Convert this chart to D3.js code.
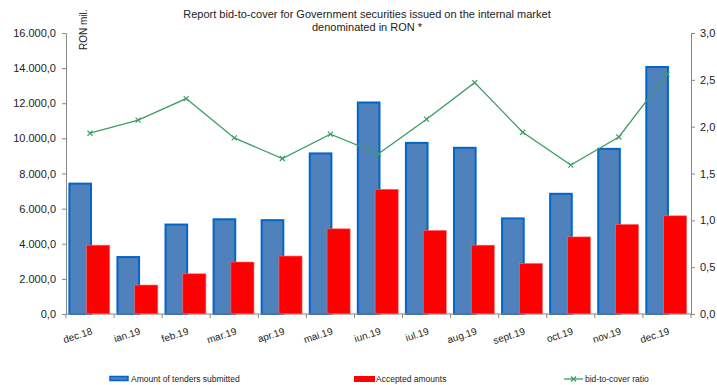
<!DOCTYPE html>
<html>
<head>
<meta charset="utf-8">
<style>
  body { margin: 0; background: #fff; }
  svg { display: block; font-family: "Liberation Sans", Arial, sans-serif; }
</style>
</head>
<body>
<svg id="chart" width="717" height="385"></svg>
<script src="https://d3js.org/d3.v7.min.js"></script>
<script>
// data
var months = ["dec.18", "ian.19", "feb.19", "mar.19", "apr.19", "mai.19", "iun.19",
              "iul.19", "aug.19", "sept.19", "oct.19", "nov.19", "dec.19"];
var tenders = [7480, 3300, 5150, 5450, 5400, 9200, 12100, 9800, 9520, 5500, 6900, 9460, 14120];
var accepted = [3920, 1650, 2290, 2960, 3300, 4850, 7100, 4760, 3920, 2880, 4390, 5100, 5590];
var ratio = [1.93, 2.07, 2.30, 1.88, 1.66, 1.92, 1.71, 2.08, 2.47, 1.94, 1.59, 1.89, 2.56];
var leftTicks = [0, 2000, 4000, 6000, 8000, 10000, 12000, 14000, 16000];
var rightTicks = [0, 0.5, 1, 1.5, 2, 2.5, 3];
var titleLines = ["Report bid-to-cover for Government securities issued on the internal market",
                  "denominated in RON *"];

var svg = d3.select("#chart");
// plot box (note: "top" is taken by window.top, so use other names)
var pl = 66, pr = 691, pt = 33, pb = 314;
var axisColor = "#868686";

var x = d3.scaleBand().domain(months).range([pl, pr]);
var y = d3.scaleLinear().domain([0, 16000]).range([pb, pt]);
var y2 = d3.scaleLinear().domain([0, 3]).range([pb, pt]);

// number format like 16.000,0
var ro = d3.formatLocale({decimal: ",", thousands: ".", grouping: [3], currency: ["", ""]});
var fmt = ro.format(",.1f");

// title
svg.append("g").selectAll("text").data(titleLines).enter().append("text")
  .attr("x", 367).attr("y", function(d, i) { return 18 + i * 13; })
  .attr("text-anchor", "middle").attr("font-size", 11).attr("fill", "#222")
  .text(function(d) { return d; });

svg.append("text")
  .attr("transform", "translate(87,50) rotate(-90)")
  .attr("font-size", 10).attr("fill", "#222")
  .text("RON mil.");

// bars
var bw = x.bandwidth();
svg.append("g").selectAll("rect").data(tenders).enter().append("rect")
  .attr("x", function(d, i) { return x(months[i]) + bw * 0.07; })
  .attr("y", function(d) { return y(d) + 1; })
  .attr("width", bw * 0.45)
  .attr("height", function(d) { return pb - y(d) - 1; })
  .attr("fill", "#4f81bd").attr("stroke", "#0066cc").attr("stroke-width", 2);

svg.append("g").selectAll("rect").data(accepted).enter().append("rect")
  .attr("x", function(d, i) { return x(months[i]) + bw * 0.43; })
  .attr("y", function(d) { return y(d); })
  .attr("width", bw * 0.48)
  .attr("height", function(d) { return pb - y(d); })
  .attr("fill", "#ff0000").attr("stroke", "#ff6a6a").attr("stroke-width", 0.6);

// axes
var gl = svg.append("g").attr("transform", "translate(" + pl + ",0)")
  .call(d3.axisLeft(y).tickValues(leftTicks).tickFormat(fmt).tickSize(4).tickSizeOuter(0).tickPadding(6));
var gr = svg.append("g").attr("transform", "translate(" + pr + ",0)")
  .call(d3.axisRight(y2).tickValues(rightTicks).tickFormat(ro.format(".1f")).tickSize(4).tickSizeOuter(0).tickPadding(5));
[gl, gr].forEach(function(g) {
  g.select(".domain").attr("stroke", axisColor);
  g.selectAll(".tick line").attr("stroke", axisColor);
  g.selectAll("text").attr("font-size", 11).attr("fill", "#222")
    .attr("font-family", "Liberation Sans, Arial, sans-serif");
});

var gx = svg.append("g").attr("transform", "translate(0," + pb + ")");
gx.append("line").attr("x1", pl).attr("x2", pr).attr("stroke", axisColor);
gx.selectAll(".tk").data(months.concat([null])).enter().append("line")
  .attr("x1", function(d, i) { return pl + i * bw; })
  .attr("x2", function(d, i) { return pl + i * bw; })
  .attr("y1", 0).attr("y2", 4).attr("stroke", axisColor);
gx.selectAll("text").data(months).enter().append("text")
  .attr("transform", function(d) { return "translate(" + (x(d) + bw / 2 + 3) + ",20) rotate(-18)"; })
  .attr("text-anchor", "end").attr("font-size", 10).attr("fill", "#222")
  .text(function(d) { return d; });

// ratio line
var lineColor = "#3a9e63";
var line = d3.line()
  .x(function(d, i) { return x(months[i]) + bw / 2; })
  .y(function(d) { return y2(d); });
svg.append("path").datum(ratio).attr("d", line)
  .attr("fill", "none").attr("stroke", lineColor).attr("stroke-width", 1.3);
var mk = svg.append("g").selectAll("g").data(ratio).enter().append("g")
  .attr("transform", function(d, i) { return "translate(" + (x(months[i]) + bw / 2) + "," + y2(d) + ")"; });
mk.append("path").attr("d", "M-2.5,-2.5L2.5,2.5M-2.5,2.5L2.5,-2.5")
  .attr("stroke", lineColor).attr("stroke-width", 1.2);

// legend
var legY = 379;
var lg = svg.append("g").attr("font-size", 8.5).attr("fill", "#222");
lg.append("rect").attr("x", 110).attr("y", legY - 2.5).attr("width", 18).attr("height", 4)
  .attr("fill", "#4f81bd").attr("stroke", "#0066cc").attr("stroke-width", 1.5);
lg.append("text").attr("x", 131).attr("y", legY + 3).text("Amount of tenders submitted");
lg.append("rect").attr("x", 354).attr("y", legY - 3).attr("width", 21).attr("height", 6)
  .attr("fill", "#ff0000");
lg.append("text").attr("x", 376).attr("y", legY + 3).text("Accepted amounts");
lg.append("line").attr("x1", 564).attr("x2", 583).attr("y1", legY).attr("y2", legY)
  .attr("stroke", lineColor).attr("stroke-width", 1.3);
lg.append("path").attr("transform", "translate(573.5," + legY + ")")
  .attr("d", "M-2.5,-2.5L2.5,2.5M-2.5,2.5L2.5,-2.5").attr("stroke", lineColor).attr("stroke-width", 1.2);
lg.append("text").attr("x", 585).attr("y", legY + 3).text("bid-to-cover ratio");
</script>
</body>
</html>
